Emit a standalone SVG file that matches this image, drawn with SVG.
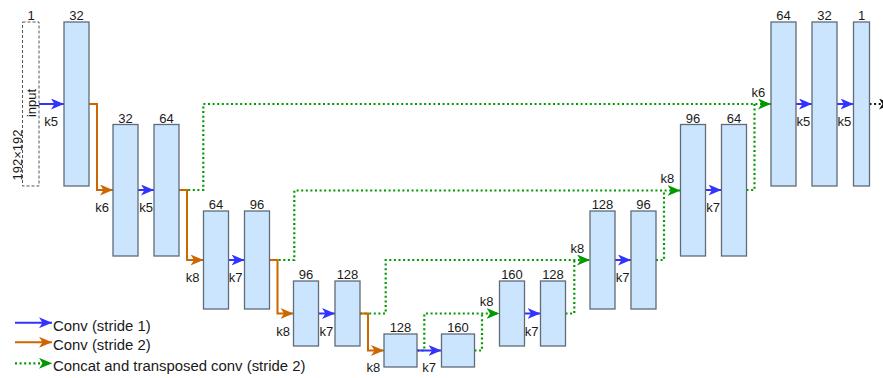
<svg xmlns="http://www.w3.org/2000/svg" width="883" height="378" viewBox="0 0 883 378">
<style>
.blk{fill:#cce5ff;stroke:#5f6b77;stroke-width:1.3}
.inp{fill:none;stroke:#555;stroke-width:1;stroke-dasharray:3,2}
text{font-family:"Liberation Sans",Arial,sans-serif;fill:#1a1a1a}
.n{font-size:13px;text-anchor:middle}
.k{font-size:13px;text-anchor:middle}
.lg{font-size:14.9px}
.b{fill:none;stroke:#3333ff;stroke-width:2;marker-end:url(#mb)}
.o{fill:none;stroke:#cc6600;stroke-width:2}
.oa{marker-end:url(#mo)}
.g{fill:none;stroke:#009900;stroke-width:2.2;stroke-dasharray:2,2.6}
.ga{marker-end:url(#mg)}
.bk{fill:none;stroke:#111;stroke-width:2;stroke-dasharray:2,2.6;marker-end:url(#mk)}
</style>
<defs>
<marker id="mb" markerUnits="userSpaceOnUse" markerWidth="13" markerHeight="11" refX="13" refY="5.5" orient="auto"><path d="M0,0 L13,5.5 L0,11 L3.5,5.5 z" fill="#3333ff"/></marker>
<marker id="mo" markerUnits="userSpaceOnUse" markerWidth="13" markerHeight="11" refX="13" refY="5.5" orient="auto"><path d="M0,0 L13,5.5 L0,11 L3.5,5.5 z" fill="#cc6600"/></marker>
<marker id="mg" markerUnits="userSpaceOnUse" markerWidth="13" markerHeight="11" refX="13" refY="5.5" orient="auto"><path d="M0,0 L13,5.5 L0,11 L3.5,5.5 z" fill="#009900"/></marker>
<marker id="mk" markerUnits="userSpaceOnUse" markerWidth="13" markerHeight="11" refX="13" refY="5.5" orient="auto"><path d="M0,0 L13,5.5 L0,11 L3.5,5.5 z" fill="#111"/></marker>
</defs>

<g id="connectors">
<path class="g ga" d="M179,190 H203.3 V104 H771"/>
<path class="g" d="M746.5,190 H754.5 V104"/>
<path class="g ga" d="M269.5,260 H294.3 V190.5 H680.5"/>
<path class="g" d="M656,260 H664 V190.5"/>
<path class="g ga" d="M360,313.5 H385.7 V260 H590"/>
<path class="g" d="M565.5,313.5 H574.3 V260"/>
<path class="g ga" d="M417,350.5 H424.3 V313.5 H499.5"/>
<path class="g" d="M474.5,350.5 H482 V313.5"/>
<path class="o oa" d="M89,104 H97 V190 H113"/>
<path class="o oa" d="M179,190 H187 V260 H203.5"/>
<path class="o oa" d="M269.5,260 H277.5 V313.5 H293.5"/>
<path class="o oa" d="M360,313.5 H368 V350.5 H384"/>
<path class="b" d="M39,104 H64"/>
<path class="b" d="M138,190 H154"/>
<path class="b" d="M228.5,260 H244.5"/>
<path class="b" d="M318.5,313.5 H335"/>
<path class="b" d="M417,350.5 H441.5"/>
<path class="b" d="M524.5,313.5 H540.5"/>
<path class="b" d="M615,260 H631"/>
<path class="b" d="M705.5,190 H721.5"/>
<path class="b" d="M796,104 H812"/>
<path class="b" d="M837,104 H853.5"/>
<path class="bk" d="M869.5,104 H892"/>
<text class="k" x="51" y="126">k5</text>
<text class="k" x="102" y="212">k6</text>
<text class="k" x="146" y="212">k5</text>
<text class="k" x="192.5" y="282">k8</text>
<text class="k" x="235.7" y="282">k7</text>
<text class="k" x="283" y="336">k8</text>
<text class="k" x="326.3" y="336">k7</text>
<text class="k" x="373.3" y="372">k8</text>
<text class="k" x="429" y="372">k7</text>
<text class="k" x="486.7" y="306">k8</text>
<text class="k" x="531.7" y="336">k7</text>
<text class="k" x="577.3" y="252.7">k8</text>
<text class="k" x="622.7" y="282">k7</text>
<text class="k" x="667.3" y="183">k8</text>
<text class="k" x="713" y="212">k7</text>
<text class="k" x="758.3" y="96.7">k6</text>
<text class="k" x="803.3" y="126">k5</text>
<text class="k" x="844.3" y="126">k5</text>
</g>

<g id="input">
<rect class="inp" x="22.5" y="22" width="16.5" height="164"/>
<text class="n" x="31" y="20">1</text>
<text transform="translate(35.5,103) rotate(-90)" style="font-size:13px;text-anchor:middle">input</text>
<text transform="translate(21.5,155) rotate(-90)" style="font-size:13px;text-anchor:middle">192×192</text>
</g>
<g id="enc1"><rect class="blk" x="64" y="22" width="25" height="164"/><text class="n" x="76.5" y="20">32</text></g>
<g id="enc2a"><rect class="blk" x="113" y="124.5" width="25" height="131.5"/><text class="n" x="125.5" y="122.5">32</text></g>
<g id="enc2b"><rect class="blk" x="154" y="124.5" width="25" height="131.5"/><text class="n" x="166.5" y="122.5">64</text></g>
<g id="enc3a"><rect class="blk" x="203.5" y="211" width="25" height="98"/><text class="n" x="216" y="209">64</text></g>
<g id="enc3b"><rect class="blk" x="244.5" y="211" width="25" height="98"/><text class="n" x="257" y="209">96</text></g>
<g id="enc4a"><rect class="blk" x="293.5" y="281" width="25" height="65"/><text class="n" x="306" y="279">96</text></g>
<g id="enc4b"><rect class="blk" x="335" y="281" width="25" height="65"/><text class="n" x="347.5" y="279">128</text></g>
<g id="bott1"><rect class="blk" x="384" y="334" width="33" height="33"/><text class="n" x="400.5" y="332">128</text></g>
<g id="bott2"><rect class="blk" x="441.5" y="334" width="33" height="33"/><text class="n" x="458" y="332">160</text></g>
<g id="dec4a"><rect class="blk" x="499.5" y="281" width="25" height="65"/><text class="n" x="512" y="279">160</text></g>
<g id="dec4b"><rect class="blk" x="540.5" y="281" width="25" height="65"/><text class="n" x="553" y="279">128</text></g>
<g id="dec3a"><rect class="blk" x="590" y="211" width="25" height="98"/><text class="n" x="602.5" y="209">128</text></g>
<g id="dec3b"><rect class="blk" x="631" y="211" width="25" height="98"/><text class="n" x="643.5" y="209">96</text></g>
<g id="dec2a"><rect class="blk" x="680.5" y="124.5" width="25" height="131.5"/><text class="n" x="693" y="122.5">96</text></g>
<g id="dec2b"><rect class="blk" x="721.5" y="124.5" width="25" height="131.5"/><text class="n" x="734" y="122.5">64</text></g>
<g id="dec1a"><rect class="blk" x="771" y="22" width="25" height="164"/><text class="n" x="783.5" y="20">64</text></g>
<g id="dec1b"><rect class="blk" x="812" y="22" width="25" height="164"/><text class="n" x="824.5" y="20">32</text></g>
<g id="out"><rect class="blk" x="853.5" y="22" width="16" height="164"/><text class="n" x="861.5" y="20">1</text></g>

<g id="legend">
<path d="M15,322.7 H52" fill="none" stroke="#3333ff" stroke-width="2" marker-end="url(#mb)"/>
<text class="lg" x="53" y="330.7">Conv (stride 1)</text>
<path d="M15,342.3 H52" fill="none" stroke="#cc6600" stroke-width="2" marker-end="url(#mo)"/>
<text class="lg" x="53" y="350.3">Conv (stride 2)</text>
<path d="M15,363.3 H52" fill="none" stroke="#009900" stroke-width="2.2" stroke-dasharray="2,2.6" marker-end="url(#mg)"/>
<text class="lg" x="53" y="371.3">Concat and transposed conv (stride 2)</text>
</g>
</svg>
